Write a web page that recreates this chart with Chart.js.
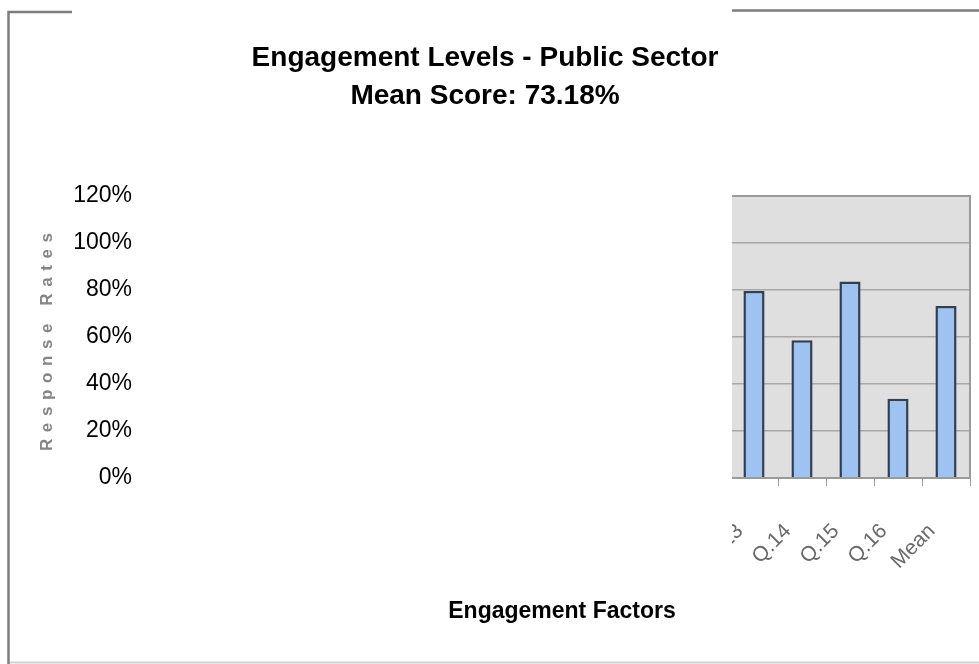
<!DOCTYPE html>
<html>
<head>
<meta charset="utf-8">
<title>Engagement Levels - Public Sector</title>
<style>
  html, body { margin: 0; padding: 0; background: #ffffff; }
  #wrap { width: 979px; height: 664px; }
  canvas { display: block; }
</style>
<script src="https://cdn.jsdelivr.net/npm/chart.js@4"></script>
</head>
<body>
<div id="wrap"><canvas id="chart" width="979" height="664"></canvas></div>
<script>
// Survey questions plus the overall mean
const categories = ['Q.1', 'Q.2', 'Q.3', 'Q.4', 'Q.5', 'Q.6', 'Q.7', 'Q.8', 'Q.9',
  'Q.10', 'Q.11', 'Q.12', 'Q.13', 'Q.14', 'Q.15', 'Q.16', 'Mean'];
// Response rates in percent (Q.1 - Q.12 are not shown in this view)
const responseRates = [null, null, null, null, null, null, null, null, null,
  null, null, null, 79.6, 58.6, 83.6, 33.7, 73.18];
const yTickValues = [0, 20, 40, 60, 80, 100, 120];
const titleLines = ['Engagement Levels - Public Sector', 'Mean Score: 73.18%'];
const xAxisTitle = 'Engagement Factors';
const yAxisTitle = 'Response Rates';

const FONT = "'Liberation Sans', Arial, sans-serif";
const VISIBLE_FROM_X = 732;   // left edge of the exposed part of the plot

const framePlugin = {
  id: 'framePlugin',
  beforeDraw(chart) {
    const { ctx, chartArea: a } = chart;
    ctx.save();
    ctx.fillStyle = '#ffffff';
    ctx.fillRect(0, 0, chart.width, chart.height);
    ctx.fillStyle = '#dfdfe0';
    ctx.fillRect(a.left, a.top, a.right - a.left, a.bottom - a.top);
    ctx.restore();
  },
  afterDatasetsDraw(chart) {
    const { ctx, chartArea: a } = chart;
    ctx.save();
    // plot area outline (top and right)
    ctx.strokeStyle = '#9a9a9a';
    ctx.lineWidth = 2;
    ctx.beginPath();
    ctx.moveTo(a.left, a.top);
    ctx.lineTo(a.right, a.top);
    ctx.lineTo(a.right, a.bottom);
    ctx.stroke();
    // blank panel over the left part of the plot and its labels
    ctx.fillStyle = '#ffffff';
    ctx.fillRect(a.left - 6, a.top - 6, VISIBLE_FROM_X - (a.left - 6), a.bottom - a.top + 20);
    ctx.fillRect(64, a.bottom + 14, VISIBLE_FROM_X - 64, 596 - (a.bottom + 14));
    ctx.restore();
  },
  afterDraw(chart) {
    const { ctx, chartArea: a } = chart;
    ctx.save();
    // vertical axis title, letter-spaced
    ctx.font = 'bold 17px ' + FONT;
    ctx.fillStyle = '#858585';
    ctx.textBaseline = 'middle';
    ctx.textAlign = 'left';
    const spacing = 6.6;
    const chars = Array.from(yAxisTitle);
    const widths = chars.map(c => ctx.measureText(c).width);
    const total = widths.reduce((s, w) => s + w, 0) + spacing * (chars.length - 1);
    ctx.translate(47, (a.top + a.bottom) / 2 + 5);
    ctx.rotate(-Math.PI / 2);
    let x = -total / 2;
    chars.forEach((c, i) => { ctx.fillText(c, x, 0); x += widths[i] + spacing; });
    ctx.restore();

    // outer frame
    ctx.save();
    ctx.strokeStyle = '#7d7d7d';
    ctx.lineWidth = 2.5;
    ctx.beginPath();
    ctx.moveTo(8.5, chart.height);
    ctx.lineTo(8.5, 12);
    ctx.lineTo(72, 12);
    ctx.moveTo(VISIBLE_FROM_X, 10.5);
    ctx.lineTo(chart.width, 10.5);
    ctx.stroke();
    ctx.strokeStyle = '#d2d2d2';
    ctx.lineWidth = 2;
    ctx.beginPath();
    ctx.moveTo(10, chart.height - 1.5);
    ctx.lineTo(chart.width, chart.height - 1.5);
    ctx.stroke();
    ctx.restore();
  }
};

new Chart(document.getElementById('chart'), {
  type: 'bar',
  data: {
    labels: categories,
    datasets: [{
      label: yAxisTitle,
      data: responseRates,
      backgroundColor: '#9fc3f1',
      borderColor: '#323f4e',
      borderWidth: 2.5,
      barPercentage: 0.44,
      categoryPercentage: 1.0
    }]
  },
  options: {
    responsive: false,
    animation: false,
    devicePixelRatio: 1,
    layout: { padding: { left: 0, right: 9, top: 0, bottom: 35 } },
    plugins: {
      legend: { display: false },
      tooltip: { enabled: false },
      title: {
        display: true,
        text: titleLines,
        color: '#000000',
        font: { family: FONT, size: 28, weight: 'bold', lineHeight: 38 / 28 },
        padding: { top: 39, bottom: 81 }
      }
    },
    scales: {
      x: {
        offset: true,
        afterFit(scale) {
          scale.height = 151;
          scale.paddingLeft = 0;
          scale.paddingRight = 0;
        },
        grid: { display: true, drawOnChartArea: false, drawTicks: true, tickLength: 8, color: '#9a9a9a', offset: true },
        border: { display: true, color: '#9a9a9a', width: 2 },
        ticks: {
          autoSkip: false,
          minRotation: 45,
          maxRotation: 45,
          padding: 33,
          labelOffset: -14,
          color: '#6a6a6a',
          font: { family: FONT, size: 21 }
        },
        title: {
          display: true,
          text: xAxisTitle,
          color: '#000000',
          font: { family: FONT, size: 23, weight: 'bold', lineHeight: 1.2 },
          padding: { top: 4, bottom: 4 }
        }
      },
      y: {
        min: 0,
        max: 120,
        afterFit(scale) { scale.width = 154; },
        afterBuildTicks(scale) { scale.ticks = yTickValues.map(v => ({ value: v })); },
        grid: { display: true, drawTicks: false, color: '#a8a8a8', lineWidth: 1.5 },
        border: { display: false },
        ticks: {
          padding: 22,
          color: '#000000',
          font: { family: FONT, size: 23 },
          callback: v => v + '%'
        },
        title: { display: false }
      }
    }
  },
  plugins: [framePlugin]
});
</script>
</body>
</html>
